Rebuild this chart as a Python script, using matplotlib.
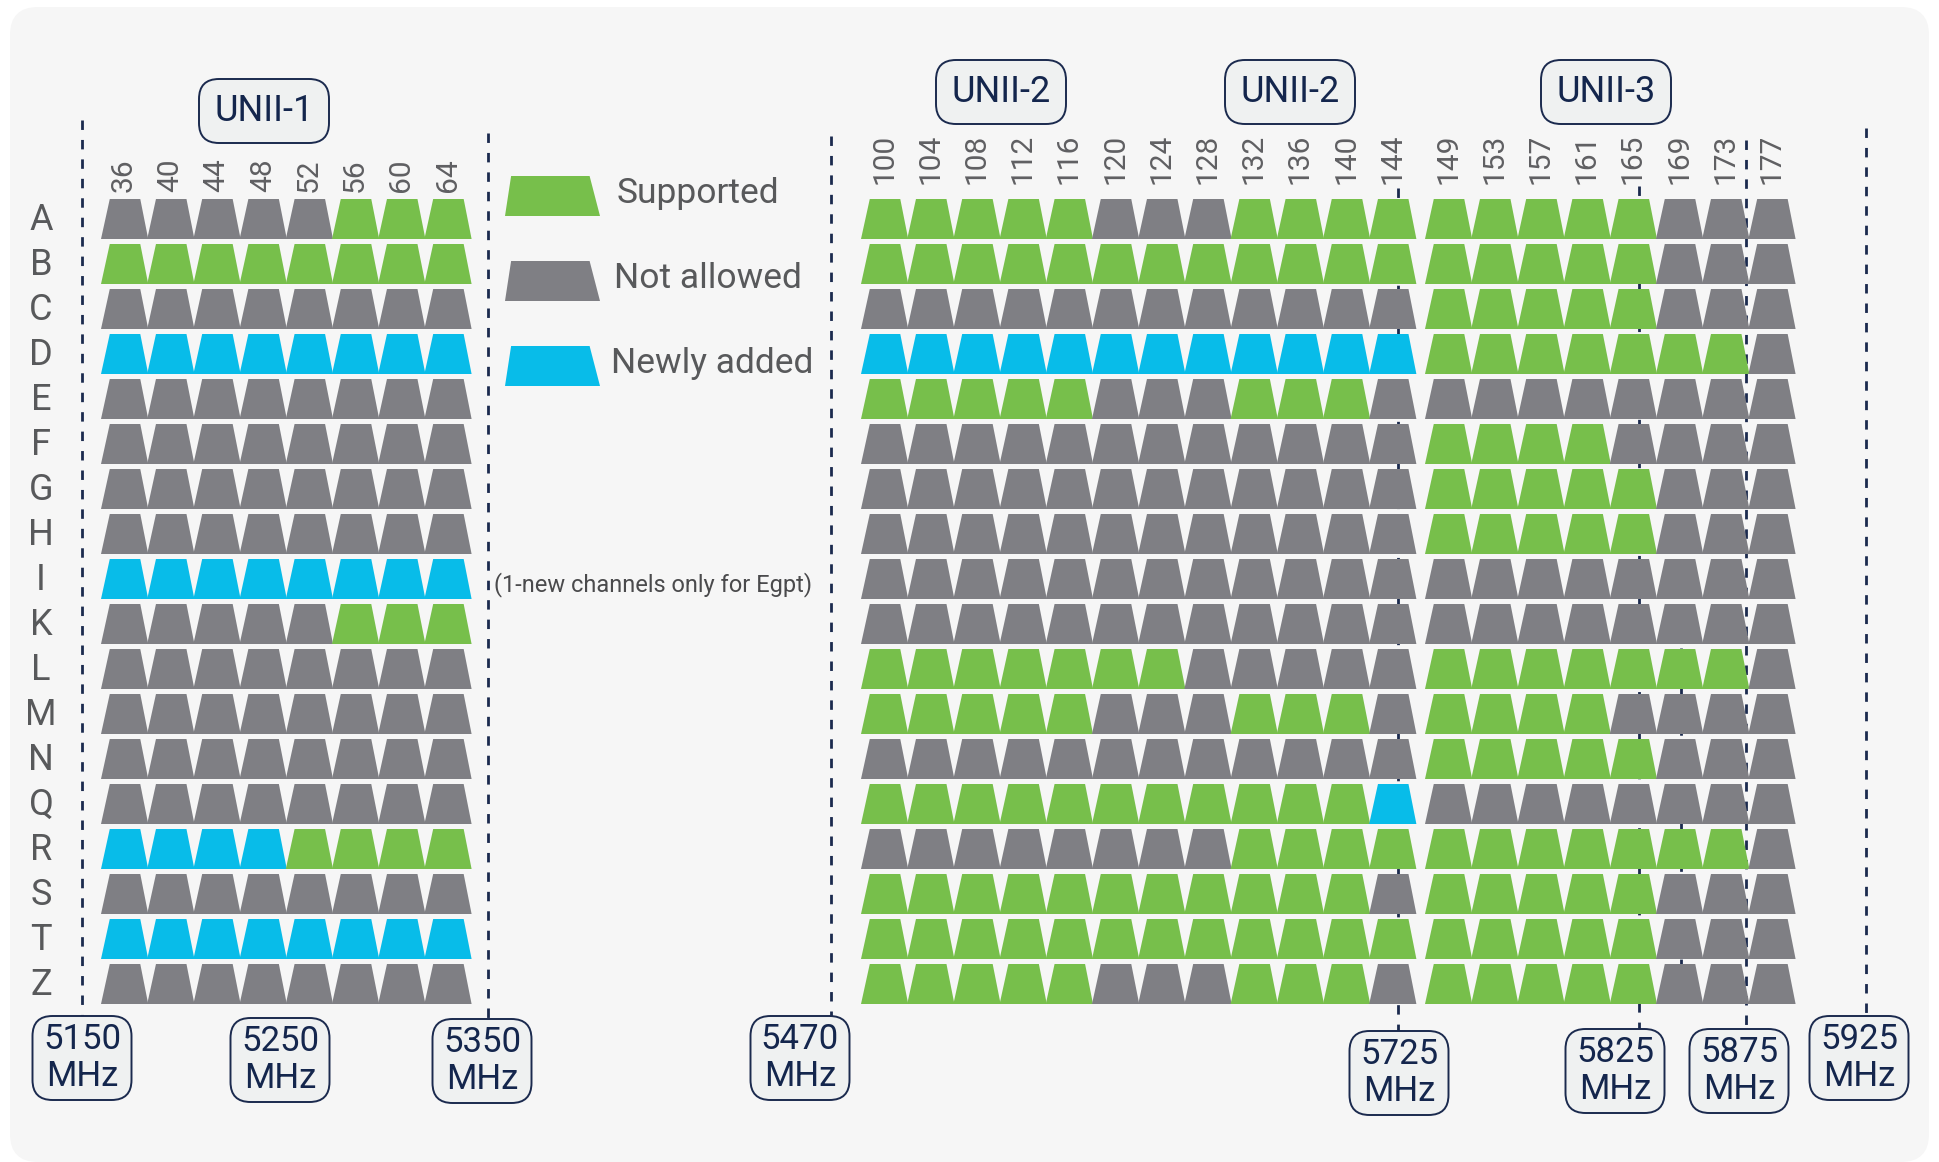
import matplotlib.pyplot as plt
from matplotlib.patches import Polygon, FancyBboxPatch

plt.rcParams['font.family'] = ['Roboto', 'DejaVu Sans']

# ---- data -------------------------------------------------------------
row_labels = ['A', 'B', 'C', 'D', 'E', 'F', 'G', 'H', 'I',
              'K', 'L', 'M', 'N', 'Q', 'R', 'S', 'T', 'Z']

unii1_channels = [36, 40, 44, 48, 52, 56, 60, 64]
unii2_channels = [100, 104, 108, 112, 116, 120, 124, 128, 132, 136, 140, 144]
unii3_channels = [149, 153, 157, 161, 165, 169, 173, 177]

# S = supported, N = not allowed, W = newly added
unii1_status = ['NNNNNSSS', 'SSSSSSSS', 'NNNNNNNN', 'WWWWWWWW', 'NNNNNNNN',
                'NNNNNNNN', 'NNNNNNNN', 'NNNNNNNN', 'WWWWWWWW', 'NNNNNSSS',
                'NNNNNNNN', 'NNNNNNNN', 'NNNNNNNN', 'NNNNNNNN', 'WWWWSSSS',
                'NNNNNNNN', 'WWWWWWWW', 'NNNNNNNN']
unii2_status = ['SSSSSNNNSSSS', 'SSSSSSSSSSSS', 'NNNNNNNNNNNN', 'WWWWWWWWWWWW',
                'SSSSSNNNSSSN', 'NNNNNNNNNNNN', 'NNNNNNNNNNNN', 'NNNNNNNNNNNN',
                'NNNNNNNNNNNN', 'NNNNNNNNNNNN', 'SSSSSSSNNNNN', 'SSSSSNNNSSSN',
                'NNNNNNNNNNNN', 'SSSSSSSSSSSW', 'NNNNNNNNSSSS', 'SSSSSSSSSSSN',
                'SSSSSSSSSSSS', 'SSSSSNNNSSSN']
unii3_status = ['SSSSSNNN', 'SSSSSNNN', 'SSSSSNNN', 'SSSSSSSN', 'NNNNNNNN',
                'SSSSNNNN', 'SSSSSNNN', 'SSSSSNNN', 'NNNNNNNN', 'NNNNNNNN',
                'SSSSSSSN', 'SSSSNNNN', 'SSSSSNNN', 'NNNNNNNN', 'SSSSSSSN',
                'SSSSSNNN', 'SSSSSNNN', 'SSSSSNNN']

band_names = ['UNII-1', 'UNII-2', 'UNII-2', 'UNII-3']
freq_marks = [5150, 5250, 5350, 5470, 5725, 5825, 5875, 5925]

legend_keys = ['S', 'N', 'W']
legend_labels = ['Supported', 'Not allowed', 'Newly added']
note_text = '(1-new channels only for Egpt)'

colors = {'S': '#77bf4b', 'N': '#7f7f84', 'W': '#08bce9'}
navy = '#1b2a4e'

# ---- layout (pixel canvas) -------------------------------------------
W, H = 1939, 1162
pitch = 46.2
row_top0 = 199
row_pitch = 45
cell_h = 40

blocks = [
    (unii1_channels, unii1_status, 101, 192),
    (unii2_channels, unii2_status, 861, 184),
    (unii3_channels, unii3_status, 1425, 184),
]

band_boxes = [(264, 111), (1001, 92), (1290, 92), (1606, 92)]
mhz_boxes = [(82, 1058), (280, 1060), (482, 1061), (800, 1058),
             (1399, 1073), (1615, 1071), (1739, 1071), (1859, 1058)]
# dashed marker lines: (x, y_start, y_end)
dashed = [(82, 120, 1050), (488, 133, 1050), (831, 136, 1050),
          (1398, 188, 1060), (1639, 186, 1060), (1746, 140, 1060),
          (1866, 128, 1050), (1681, 648, 1000)]

fig = plt.figure(figsize=(W / 100, H / 100), dpi=100, facecolor='white')
ax = fig.add_axes([0, 0, 1, 1])
ax.set_xlim(0, W)
ax.set_ylim(H, 0)
ax.axis('off')

ax.add_patch(FancyBboxPatch((10, 7), W - 20, H - 7,
                            boxstyle='round,pad=0,rounding_size=28',
                            fc='#f6f6f6', ec='none', zorder=0))

for x, y0, y1 in dashed:
    ax.plot([x, x], [y0, y1], color=navy, lw=2.0, dashes=(3.4, 3.6), zorder=1)


def trapezoid(x, y, w, h, key, left=0.19, right=0.15):
    pts = [(x, y + h), (x + w + 1, y + h), (x + w - right * w, y), (x + left * w, y)]
    ax.add_patch(Polygon(pts, closed=True, fc=colors[key], ec='none', zorder=2))


for channels, status, x0, lab_y in blocks:
    for j, ch in enumerate(channels):
        ax.text(x0 + (j + 0.5) * pitch, lab_y, str(ch), rotation=90,
                ha='center', va='bottom', fontsize=21.5, color='#5f5f62')
    for i, row in enumerate(status):
        for j, key in enumerate(row):
            trapezoid(x0 + j * pitch, row_top0 + i * row_pitch, pitch, cell_h, key)

for i, lab in enumerate(row_labels):
    ax.text(41, row_top0 + i * row_pitch + cell_h / 2 + 1, lab, ha='center',
            va='center', fontsize=26, color='#58595b')

# legend
for k, (key, lab) in enumerate(zip(legend_keys, legend_labels)):
    ly = 176 + k * 85
    trapezoid(505, ly, 94, 40, key, left=0.065, right=0.1)
    ax.text(617 - 3 * k, ly + 18, lab, ha='left', va='center', fontsize=25.5,
            color='#58595b')

ax.text(494, 585, note_text, ha='left', va='center', fontsize=17, color='#4a4a4c')


def label_box(cx, cy, w, h, text, size, ls=1.2):
    ax.add_patch(FancyBboxPatch((cx - w / 2, cy - h / 2), w, h,
                                boxstyle='round,pad=0,rounding_size=20',
                                fc='#eff1f1', ec=navy, lw=1.4, zorder=3))
    ax.text(cx, cy, text, ha='center', va='center', fontsize=size,
            color='#14264d', linespacing=ls, zorder=4)


for (cx, cy), name in zip(band_boxes, band_names):
    label_box(cx, cy, 130, 64, name, 26)

for (cx, cy), f in zip(mhz_boxes, freq_marks):
    label_box(cx, cy, 99, 84, f'{f}\nMHz', 25, ls=1.18)

fig.savefig('out.png', dpi=100, facecolor='white')
